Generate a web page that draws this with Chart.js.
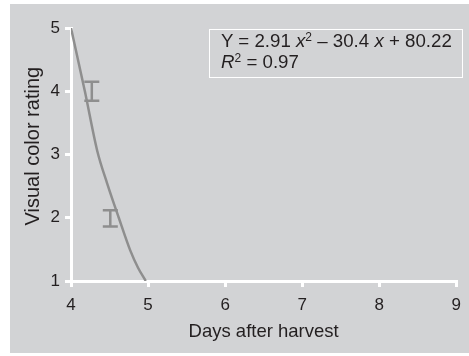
<!DOCTYPE html>
<html>
<head>
<meta charset="utf-8">
<script src="https://cdn.jsdelivr.net/npm/chart.js@4.4.1/dist/chart.umd.min.js"></script>
<style>
  body { margin: 0; background: #fff; }
  #wrap { position: relative; width: 469px; height: 356px; }
  #ecuacion {
    position: absolute; left: 209px; top: 29px; width: 254px; height: 49px;
    border: 1.5px solid #fff; box-sizing: border-box;
    font-family: "Liberation Sans", Arial, sans-serif; font-size: 18.7px; line-height: 18.5px;
    color: #231f20; padding: 2px 0 0 11px; white-space: nowrap;
  }
  #ecuacion sup { font-size: 12px; vertical-align: 0; position: relative; top: -6px; }
</style>
</head>
<body>
<div id="wrap">
  <canvas id="grafico" width="469" height="356"></canvas>
  <div id="ecuacion">Y = 2.91 <i>x</i><sup>2</sup> – 30.4 <i>x</i> + 80.22<br><i>R</i><sup>2</sup> = 0.97</div>
</div>
<script>
// Curva de color visual
const diasCurva = [4.0, 4.18, 4.34, 4.47, 4.62, 4.77, 4.87, 4.97];
const colorCurva = [5.0, 4.0, 3.06, 2.54, 2.0, 1.48, 1.21, 1.0];

// Puntos medios con barras de error
const diasError = [4.27, 4.51];
const colorMedio = [4.0, 1.99];
const errorColor = [0.15, 0.13];

const ticksX = [4, 5, 6, 7, 8, 9];
const ticksY = [1, 2, 3, 4, 5];

const texto = '#231f20';
const gris = '#8e8e8e';

// Fondo gris del recuadro
const fondo = {
  id: 'fondo',
  beforeDraw(chart) {
    const c = chart.ctx;
    c.save();
    c.fillStyle = '#d2d3d5';
    c.fillRect(10, 4, 459, 349);
    c.restore();
  }
};

// Barras de error dibujadas con las escalas del grafico
const barrasError = {
  id: 'barrasError',
  afterDatasetsDraw(chart) {
    const c = chart.ctx;
    const x = chart.scales.x, y = chart.scales.y;
    c.save();
    c.strokeStyle = gris;
    c.lineWidth = 2.5;
    diasError.forEach((d, i) => {
      const px = x.getPixelForValue(d);
      const top = y.getPixelForValue(colorMedio[i] + errorColor[i]);
      const bot = y.getPixelForValue(colorMedio[i] - errorColor[i]);
      c.beginPath();
      c.moveTo(px, top); c.lineTo(px, bot);
      c.moveTo(px - 7.5, top); c.lineTo(px + 7.5, top);
      c.moveTo(px - 7.5, bot); c.lineTo(px + 7.5, bot);
      c.stroke();
    });
    c.restore();
  }
};

const familia = '"Liberation Sans", Arial, sans-serif';
const fuenteTicks = { family: familia, size: 17 };

new Chart(document.getElementById('grafico'), {
  type: 'scatter',
  data: {
    datasets: [{
      data: diasCurva.map((d, i) => ({ x: d, y: colorCurva[i] })),
      showLine: true,
      borderColor: gris,
      borderWidth: 2.5,
      pointRadius: 0,
      cubicInterpolationMode: 'monotone'
    }]
  },
  options: {
    responsive: false,
    animation: false,
    layout: { padding: { left: 10, top: 28, right: 5, bottom: 0 } },
    plugins: { legend: { display: false }, tooltip: { enabled: false } },
    scales: {
      x: {
        type: 'linear', min: 4, max: 9,
        afterBuildTicks: s => { s.ticks = ticksX.map(v => ({ value: v })); },
        afterFit: s => { s.height = 75; },
        grid: { drawOnChartArea: false, color: '#fff', lineWidth: 3, tickLength: 6 },
        border: { color: '#fff', width: 3 },
        ticks: { color: texto, font: fuenteTicks, padding: 8, maxRotation: 0 },
        title: { display: true, text: 'Days after harvest', color: texto, font: { family: familia, size: 18.5 }, padding: { bottom: 13 } }
      },
      y: {
        type: 'linear', min: 1, max: 5,
        afterBuildTicks: s => { s.ticks = ticksY.map(v => ({ value: v })); },
        afterFit: s => { s.width = 61; },
        grid: { drawOnChartArea: false, color: '#fff', lineWidth: 3, tickLength: 6 },
        border: { color: '#fff', width: 3 },
        ticks: { color: texto, font: fuenteTicks, padding: 5 },
        // espacios al inicio para subir el titulo como en el original
        title: { display: true, text: '   Visual color rating', color: texto, font: { family: familia, size: 20 }, padding: { top: 11 } }
      }
    }
  },
  plugins: [fondo, barrasError]
});
</script>
</body>
</html>
